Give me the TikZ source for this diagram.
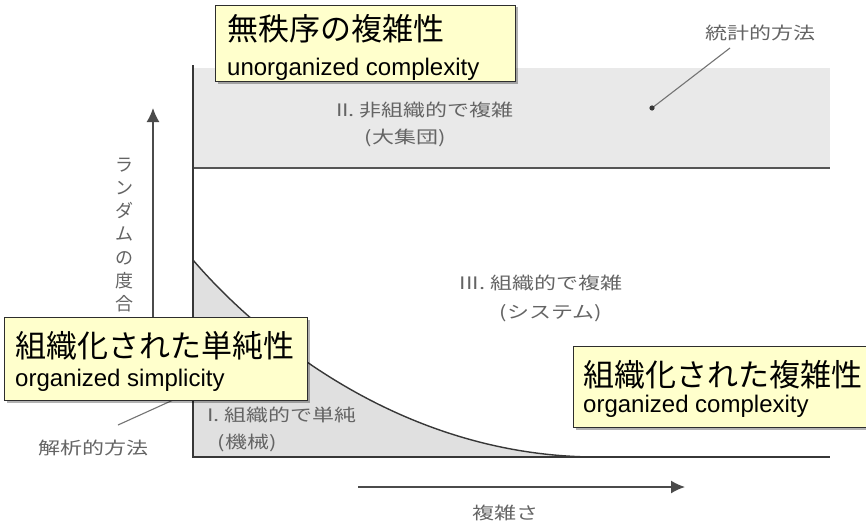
\documentclass[tikz,border=0pt]{standalone}
\usepackage{fontspec}
\usepackage{graphicx}
\setmainfont{Liberation Sans}
\newfontfamily\jp{Noto Sans CJK JP}
\usetikzlibrary{arrows.meta,shadows}
\definecolor{boxfill}{RGB}{255,255,204}
\definecolor{boxline}{RGB}{45,45,45}
\definecolor{bandfill}{RGB}{233,233,233}
\definecolor{areafill}{RGB}{224,224,224}
\definecolor{axisline}{RGB}{55,55,55}
\definecolor{scantext}{RGB}{100,100,100}
\tikzset{
  notebox/.style={draw=boxline, line width=1pt, fill=boxfill, inner sep=0pt,
    anchor=north west, drop shadow={shadow xshift=2pt, shadow yshift=-2pt, fill=black, opacity=0.3}},
  jpbig/.style={anchor=base west, inner sep=0pt, font=\jp\fontsize{31}{31}\selectfont},
  enline/.style={anchor=base west, inner sep=0pt, font=\fontsize{24}{24}\selectfont},
  scanlbl/.style={inner sep=0pt, text=scantext, font=\jp\fontsize{22}{22}\selectfont},
  axis/.style={draw=axisline, line width=2.6pt, line join=miter},
  bandline/.style={draw=axisline!85, line width=2.2pt},
  curveline/.style={draw=axisline, line width=1.4pt},
  arrowline/.style={draw=axisline!90, line width=1.6pt, -{Latex[length=14pt,width=13pt]}},
  leader/.style={draw=axisline!70, line width=1.1pt}
}
\begin{document}
\begin{tikzpicture}[x=1pt,y=-1pt]
\useasboundingbox (0,0) rectangle (866,527);
\clip (0,0) rectangle (866,527);
\fill[white] (0,0) rectangle (866,527);

% region II band
\fill[bandfill] (193,68) rectangle (830,168);
\coordinate (bandL) at (193,168);
\coordinate (bandR) at (830,168);
\draw[bandline] (bandL) -- (bandR);

% region I
\coordinate (c0) at (193,260);
\coordinate (c3) at (593,457);
\coordinate (origin) at (193,457);
\coordinate (ytop) at (193,65);
\coordinate (xend) at (830,457);
\fill[areafill] (c0) .. controls (253,330) and (395,455) .. (c3) -- (origin) -- cycle;
\draw[curveline] (c0) .. controls (253,330) and (395,455) .. (c3);
\draw[axis] (ytop) -- (origin) -- (xend);

% scan labels
\node[scanlbl] (IIa) at (425,110) {\scalebox{1}[0.78]{II. 非組織的で複雑}};
\node[scanlbl] (IIb) at (405,138) {\scalebox{1}[0.78]{(大集団)}};
\node[scanlbl] (IIIa) at (541,283) {\scalebox{1}[0.78]{III. 組織的で複雑}};
\node[scanlbl] (IIIb) at (551,313) {\scalebox{1}[0.78]{(システム)}};
\node[scanlbl] (Ia) at (282,415) {\scalebox{1}[0.78]{I. 組織的で単純}};
\node[scanlbl] (Ib) at (247,443) {\scalebox{1}[0.78]{(機械)}};
\node[scanlbl] (anal) at (93,448) {\scalebox{1}[0.78]{解析的方法}};
\node[scanlbl] (stat) at (760,33) {\scalebox{1}[0.78]{統計的方法}};
\node[scanlbl] (cplx) at (505,513) {\scalebox{1}[0.78]{複雑さ}};
\node[scanlbl, align=center, font=\jp\fontsize{18}{23.3}\selectfont] (rand) at (124,235)
  {ラ\\ン\\ダ\\ム\\の\\度\\合};

% leaders
\coordinate (st0) at (730,48);
\coordinate (st1) at (652,108);
\draw[leader] (st0) -- (st1);
\fill[axisline] (st1) circle (2.6);
\coordinate (an0) at (118,425);
\coordinate (an1) at (182,396);
\draw[leader] (an0) -- (an1);

% axis arrows
\coordinate (ya0) at (153,330);
\coordinate (ya1) at (153,108);
\draw[arrowline] (ya0) -- (ya1);
\coordinate (xa0) at (358,487);
\coordinate (xa1) at (685,487);
\draw[arrowline] (xa0) -- (xa1);

% annotation boxes
\node[notebox, minimum width=300pt, minimum height=76pt] (boxU) at (215,5) {};
\node[jpbig] (boxUj) at (227,41) {無秩序の複雑性};
\node[enline] (boxUe) at (227,75) {unorganized complexity};

\node[notebox, minimum width=303pt, minimum height=83pt] (boxS) at (4,317) {};
\node[jpbig] (boxSj) at (15,357) {組織化された単純性};
\node[enline] (boxSe) at (15,386) {organized simplicity};

\node[notebox, minimum width=310pt, minimum height=81pt] (boxC) at (573,346) {};
\node[jpbig] (boxCj) at (583,386) {組織化された複雑性};
\node[enline] (boxCe) at (583,412) {organized complexity};
\end{tikzpicture}
\end{document}
